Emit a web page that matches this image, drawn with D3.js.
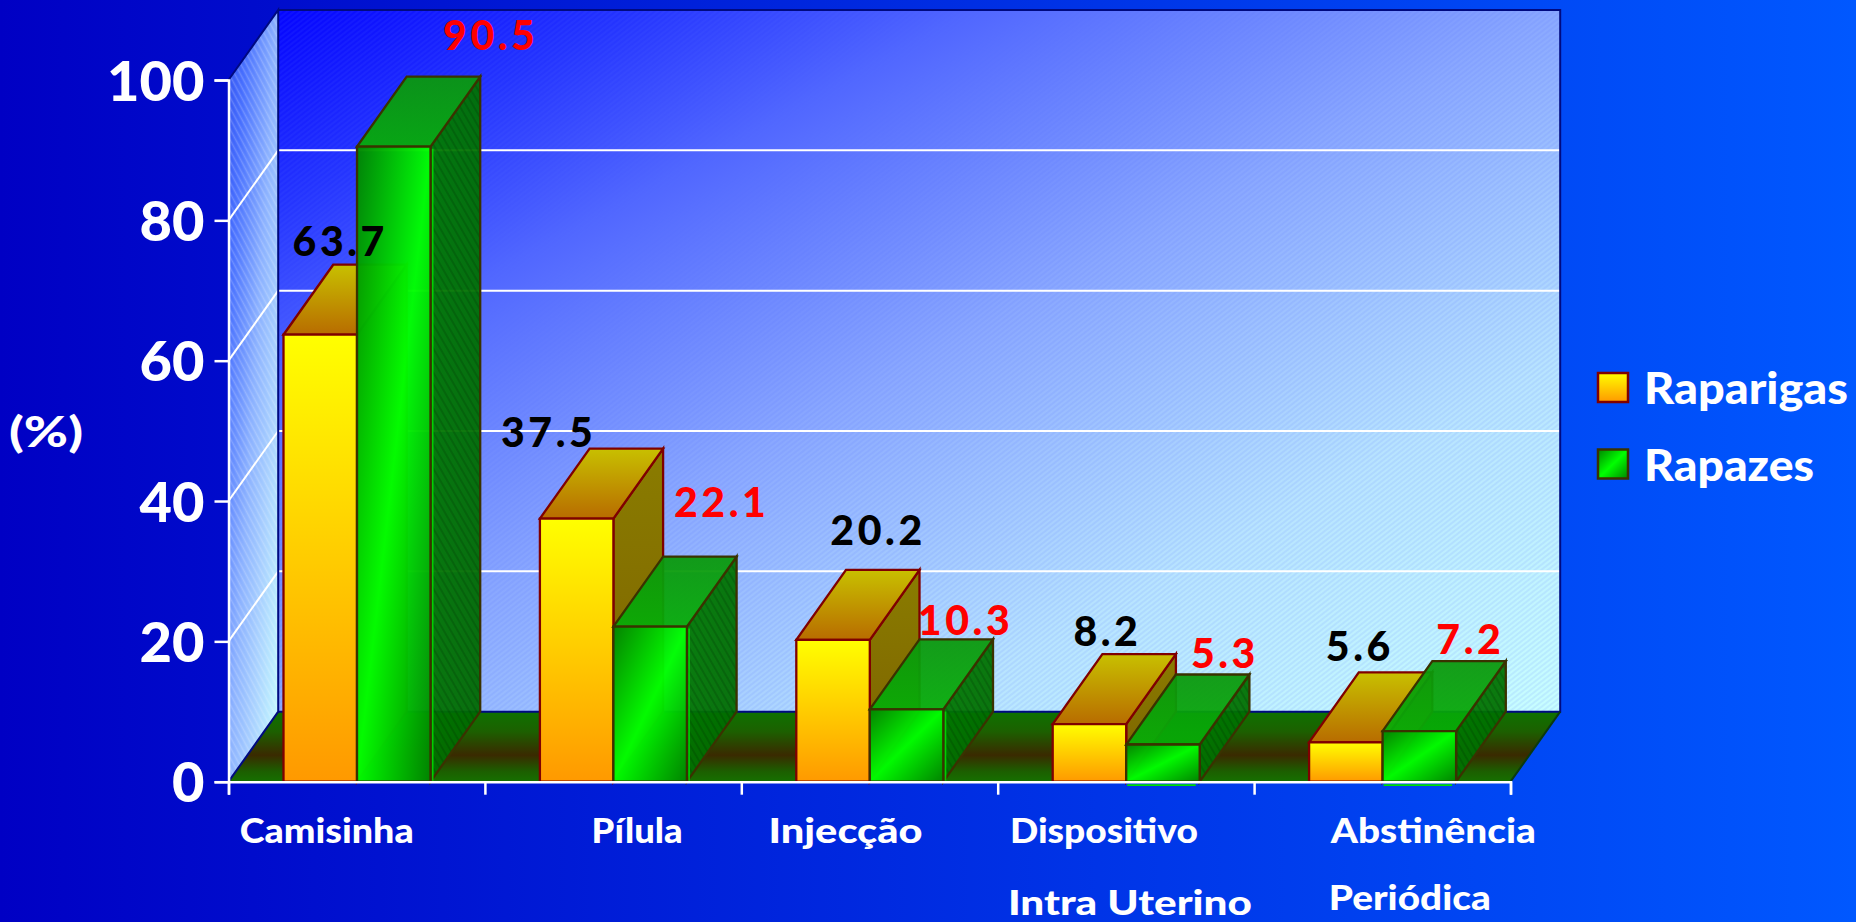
<!DOCTYPE html>
<html><head><meta charset="utf-8">
<script src="https://cdn.jsdelivr.net/npm/d3@7/dist/d3.min.js"></script>
<style>html,body{margin:0;padding:0;background:#0030e0;overflow:hidden}svg{display:block}
text{font-family:Lato,"Noto Sans",sans-serif;font-weight:900}</style>
</head><body><svg id="c" width="1856" height="922"></svg>
<script>
// ---- data
const categories = ["Camisinha","Pílula","Injecção","Dispositivo Intra Uterino","Abstinência Periódica"];
const seriesNames = ["Raparigas","Rapazes"];
const raparigas = [63.7,37.5,20.2,8.2,5.6];
const rapazes = [90.5,22.1,10.3,5.3,7.2];
const yTicks = [0,20,40,60,80,100];
const yLabel = "(%)";
// ---- hand-placed annotation offsets, as in the original slide
const labelNudgeRaparigas = [[20,-93],[-28,-86],[45,-110],[18,-93],[14,-96]];
const labelNudgeRapazes = [[97,-111],[71.5,-124.5],[59,-89],[62,-91],[51,-92]];
const catLayout = [
 [{t:"Camisinha",dx:-30,w:174,y:843}],
 [{t:"Pílula",dx:24,w:91,y:843}],
 [{t:"Injecção",dx:-24,w:154,y:843}],
 [{t:"Dispositivo",dx:-22,w:188,y:843},{t:"Intra Uterino",dx:4,w:244,y:915}],
 [{t:"Abstinência",dx:51,w:205,y:843},{t:"Periódica",dx:27.5,w:162,y:910}]
];

const W=1856,H=922;
const svg=d3.select("#c");
const defs=svg.append("defs");
function grad(id,stops,v){
  const g=defs.append("linearGradient").attr("id",id).attr("x1",v[0]).attr("y1",v[1]).attr("x2",v[2]).attr("y2",v[3]);
  stops.forEach(s=>g.append("stop").attr("offset",s[0]).attr("stop-color",s[1]));
}
grad("bg",[[0,"#0000c4"],[1,"#0058ff"]],[0,0,1,0]);
grad("wall",[[0,"#0404ff"],[.14,"#2434ff"],[.27,"#5066ff"],[.5,"#8aa8ff"],[.75,"#b8e4ff"],[1,"#c8ffff"]],[0,0,1,1]);
grad("side",[[0,"#3050f0"],[.2,"#4870ff"],[.5,"#8cb2ff"],[.7,"#a8d0ff"],[1,"#c8ffff"]],[0,0,1,1]);
grad("floor",[[0,"#0e7200"],[.28,"#1c6000"],[.62,"#3a2a00"],[.85,"#1c5e00"],[1,"#167000"]],[0,0,0,1]);
grad("yFront",[[0,"#ffff00"],[1,"#ff9900"]],[0,0,0,1]);
grad("yTop",[[0,"#c8c000"],[1,"#b86c00"]],[0,0,0,1]);
grad("ySide",[[0,"#8a7c00"],[1,"#7c6000"]],[0,0,0,1]);
grad("gFront",[[0,"#008400"],[.5,"#00ff00"],[1,"#008400"]],[0,0,1,1]);
grad("gTop",[[0,"#0a980c"],[1,"#06ac06"]],[0,0,0,1]);
grad("gSide",[[0,"#007c00"],[1,"#006800"]],[0,0,1,1]);
function hatch(id,size,angle,color,sw){
  const p=defs.append("pattern").attr("id",id).attr("patternUnits","userSpaceOnUse")
    .attr("width",size).attr("height",size).attr("patternTransform",`rotate(${angle})`);
  p.append("line").attr("x1",0).attr("y1",size/2).attr("x2",size).attr("y2",size/2)
    .attr("stroke",color).attr("stroke-width",sw);
}
hatch("hWall",4,-38,"rgba(80,105,255,.22)",1);
hatch("hSide",5,62,"rgba(255,255,255,.2)",1.6);
hatch("hGreen",6,60,"rgba(0,40,0,.2)",2);

// ---- scales
const x0=228.5,x1=1510.5,y0=781.7,y100=80,depthX=49.7,depthY=-70;
const x=d3.scaleBand().domain(categories).range([x0,x1]);
const sub=d3.scaleBand().domain(seriesNames).range([55,202]);
const y=d3.scaleLinear().domain([0,100]).range([y0,y100]);
const tickPos=d3.scaleLinear().domain([0,categories.length]).range([x0,x1]);
const line=d3.line();
const poly=p=>line(p)+"Z";
const back=([a,b])=>[a+depthX,b+depthY];

svg.append("rect").attr("width",W).attr("height",H).attr("fill","url(#bg)");

// ---- walls and floor
const pBack=[[x0,y(100)],[x1,y(100)],[x1,y(0)],[x0,y(0)]].map(back);
const pSide=[[x0,y(100)],back([x0,y(100)]),back([x0,y(0)]),[x0,y(0)]];
const pFloor=[[x0,y(0)],[x1,y(0)],back([x1,y(0)]),back([x0,y(0)])];
[["url(#wall)",pBack],["url(#hWall)",pBack],["url(#side)",pSide],["url(#hSide)",pSide],["url(#floor)",pFloor]]
 .forEach(([f,p])=>svg.append("path").attr("d",poly(p)).attr("fill",f));

// gridlines
const g=yTicks.filter(v=>v>0&&v<100);
svg.selectAll(".gb").data(g).join("line").attr("x1",x0+depthX).attr("x2",x1+depthX)
 .attr("y1",d=>y(d)+depthY).attr("y2",d=>y(d)+depthY).attr("stroke","#fff").attr("stroke-width",2);
svg.selectAll(".gs").data(g).join("line").attr("x1",x0).attr("x2",x0+depthX)
 .attr("y1",d=>y(d)).attr("y2",d=>y(d)+depthY).attr("stroke","#fff").attr("stroke-width",2);

// wall edges
const navy="#000a80";
svg.append("path").attr("d",line([[x0,y(100)],back([x0,y(100)]),back([x0,y(0)]),[x0,y(0)]])).attr("fill","none").attr("stroke",navy).attr("stroke-width",2);
svg.append("path").attr("d",line([back([x0,y(100)]),back([x1,y(100)]),back([x1,y(0)]),back([x0,y(0)])])).attr("fill","none").attr("stroke",navy).attr("stroke-width",2);
svg.append("line").attr("x1",x1).attr("y1",y(0)).attr("x2",x1+depthX).attr("y2",y(0)+depthY).attr("stroke","#0a3a10").attr("stroke-width",2);

// ---- bars
const styles={
 Raparigas:{front:"url(#yFront)",top:"url(#yTop)",side:"url(#ySide)",stroke:"#7f0000",op:1,label:"#000"},
 Rapazes:{front:"url(#gFront)",top:"url(#gTop)",side:"url(#gSide)",stroke:"#3a3200",op:.94,label:"#ff0000"}
};
const rows=[];
categories.forEach((c,i)=>{
  rows.push({c,s:"Raparigas",v:raparigas[i],n:labelNudgeRaparigas[i]});
  rows.push({c,s:"Rapazes",v:rapazes[i],n:labelNudgeRapazes[i]});
});
const barG=svg.selectAll(".bar").data(rows).join("g").attr("class","bar");
barG.each(function(d){
  const st=styles[d.s],a=x(d.c)+sub(d.s),b=a+sub.bandwidth(),t=y(d.v),z=y(0),el=d3.select(this);
  const side=[[b,t],back([b,t]),back([b,z]),[b,z]];
  const top=[[a,t],[b,t],back([b,t]),back([a,t])];
  const front=[[a,t],[b,t],[b,z],[a,z]];
  const stroke=p=>el.append("path").attr("d",poly(p)).attr("fill","none").attr("stroke",st.stroke).attr("stroke-width",2.3).attr("stroke-linejoin","miter");
  el.append("path").attr("d",poly(side)).attr("fill",st.side).attr("fill-opacity",st.op);
  if(d.s==="Rapazes") el.append("path").attr("d",poly(side)).attr("fill","url(#hGreen)");
  stroke(side);
  el.append("path").attr("d",poly(top)).attr("fill",st.top).attr("fill-opacity",st.op);
  stroke(top);
  el.append("path").attr("d",poly(front)).attr("fill",st.front).attr("fill-opacity",d.s==="Rapazes"?.97:1);
  stroke(front);
  if(d.s==="Rapazes"&&d.v>10){ // thin highlight beside the front edge
    el.append("line").attr("x1",b+2.2).attr("x2",b+2.2).attr("y1",t+2).attr("y2",z-1).attr("stroke","#00e800").attr("stroke-width",1.6).attr("stroke-opacity",.8);
  }
  if(d.s==="Rapazes"&&d.v<10){ // sliver of the fill that pokes out under the axis
    el.append("line").attr("x1",a+1).attr("x2",b-4).attr("y1",z+3.4).attr("y2",z+3.4).attr("stroke","#00e000").attr("stroke-width",1.6);
  }
});

// ---- axes
const ax=svg.append("g").attr("transform",`translate(${x0},0)`).call(d3.axisLeft(y).tickValues(yTicks).tickSize(14).tickPadding(10));
ax.selectAll("path,line").attr("stroke","#fff").attr("stroke-width",2.5);
ax.selectAll("text").attr("fill","#fff").attr("font-size",56).attr("dy","0.36em");
const bx=svg.append("g").attr("transform",`translate(0,${y0})`).call(d3.axisBottom(tickPos).tickValues(d3.range(categories.length+1)).tickSize(13).tickSizeOuter(13).tickFormat(""));
bx.selectAll("path,line").attr("stroke","#fff").attr("stroke-width",2.5);
bx.select("path").attr("fill","none");

// ---- category labels
categories.forEach((c,i)=>{
  const cx=x(c)+x.bandwidth()/2;
  svg.selectAll(null).data(catLayout[i]).join("text").attr("class","cat")
   .attr("x",d=>cx+d.dx).attr("y",d=>d.y).attr("text-anchor","middle")
   .attr("font-size",35).attr("fill","#fff")
   .attr("textLength",d=>d.w).attr("lengthAdjust","spacingAndGlyphs").text(d=>d.t);
});

// ---- value labels
svg.selectAll(".val").data(rows).join("text").attr("class","val")
 .attr("x",d=>x(d.c)+sub(d.s)+sub.bandwidth()/2+d.n[0]).attr("y",d=>y(d.v)+d.n[1]).attr("dy","0.36em")
 .attr("text-anchor","middle").attr("font-size",41).attr("letter-spacing",3.6).attr("fill",d=>styles[d.s].label)
 .text(d=>d.v.toFixed(1));

// ---- y title
svg.append("text").attr("x",46).attr("y",447).attr("text-anchor","middle").attr("font-size",42).attr("fill","#fff").attr("textLength",74).attr("lengthAdjust","spacingAndGlyphs").text(yLabel);

// ---- legend
const legW={Raparigas:204,Rapazes:170};
const legY=d3.scalePoint().domain(seriesNames).range([373,449.5]);
const leg=svg.selectAll(".leg").data(seriesNames).join("g").attr("class","leg").attr("transform",d=>`translate(1598,${legY(d)})`);
leg.append("rect").attr("width",30).attr("height",29).attr("fill",d=>styles[d].front).attr("stroke",d=>styles[d].stroke).attr("stroke-width",2.5);
leg.append("text").attr("x",46).attr("y",31).attr("font-size",44).attr("fill","#fff")
 .attr("textLength",d=>legW[d]).attr("lengthAdjust","spacingAndGlyphs").text(d=>d);
</script></body></html>
